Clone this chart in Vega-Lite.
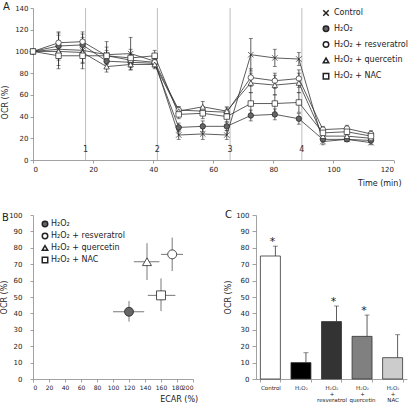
{
  "$schema": "https://vega.github.io/schema/vega-lite/v6.json",
  "padding": {"left": 0, "top": 2, "right": 0, "bottom": 0},
  "background": "white",
  "config": {
    "font": "DejaVu Sans",
    "view": {"stroke": null},
    "axis": {"grid": false, "domainColor": "#8a8a8a", "tickColor": "#8a8a8a", "domainWidth": 0.8, "tickWidth": 0.8, "labelColor": "#222", "titleColor": "#222", "labelFontSize": 7, "titleFontSize": 8, "titleFontWeight": "normal", "tickSize": 3, "labelPadding": 2, "labelOverlap": false, "labelSeparation": 0, "labelBound": false},
    "legend": {"labelFontSize": 8, "labelColor": "#222", "padding": 0}
  },
  "datasets": {
    "ts": [
      {"t":0,"s":"Control","v":100,"e":0},{"t":8.5,"s":"Control","v":102,"e":15},{"t":16.5,"s":"Control","v":101,"e":12},{"t":24.5,"s":"Control","v":97,"e":12},{"t":32.5,"s":"Control","v":98,"e":15},{"t":40.5,"s":"Control","v":91,"e":5},{"t":48.5,"s":"Control","v":23,"e":4},{"t":56.5,"s":"Control","v":24,"e":5},{"t":64.5,"s":"Control","v":23,"e":4},{"t":72.5,"s":"Control","v":97,"e":15},{"t":80.5,"s":"Control","v":94,"e":8},{"t":88.5,"s":"Control","v":93,"e":6},{"t":96.5,"s":"Control","v":17,"e":3},{"t":104.5,"s":"Control","v":19,"e":2},{"t":112.5,"s":"Control","v":16,"e":2},
      {"t":0,"s":"H₂O₂","v":100,"e":0},{"t":8.5,"s":"H₂O₂","v":105,"e":10},{"t":16.5,"s":"H₂O₂","v":106,"e":10},{"t":24.5,"s":"H₂O₂","v":91,"e":6},{"t":32.5,"s":"H₂O₂","v":90,"e":5},{"t":40.5,"s":"H₂O₂","v":89,"e":4},{"t":48.5,"s":"H₂O₂","v":30,"e":4},{"t":56.5,"s":"H₂O₂","v":31,"e":5},{"t":64.5,"s":"H₂O₂","v":31,"e":4},{"t":72.5,"s":"H₂O₂","v":41,"e":5},{"t":80.5,"s":"H₂O₂","v":42,"e":5},{"t":88.5,"s":"H₂O₂","v":38,"e":5},{"t":96.5,"s":"H₂O₂","v":19,"e":2},{"t":104.5,"s":"H₂O₂","v":19,"e":2},{"t":112.5,"s":"H₂O₂","v":18,"e":2},
      {"t":0,"s":"H₂O₂ + resveratrol","v":100,"e":0},{"t":8.5,"s":"H₂O₂ + resveratrol","v":108,"e":10},{"t":16.5,"s":"H₂O₂ + resveratrol","v":109,"e":9},{"t":24.5,"s":"H₂O₂ + resveratrol","v":96,"e":5},{"t":32.5,"s":"H₂O₂ + resveratrol","v":92,"e":5},{"t":40.5,"s":"H₂O₂ + resveratrol","v":90,"e":4},{"t":48.5,"s":"H₂O₂ + resveratrol","v":46,"e":3},{"t":56.5,"s":"H₂O₂ + resveratrol","v":45,"e":4},{"t":64.5,"s":"H₂O₂ + resveratrol","v":44,"e":4},{"t":72.5,"s":"H₂O₂ + resveratrol","v":76,"e":8},{"t":80.5,"s":"H₂O₂ + resveratrol","v":73,"e":7},{"t":88.5,"s":"H₂O₂ + resveratrol","v":75,"e":8},{"t":96.5,"s":"H₂O₂ + resveratrol","v":28,"e":3},{"t":104.5,"s":"H₂O₂ + resveratrol","v":29,"e":3},{"t":112.5,"s":"H₂O₂ + resveratrol","v":24,"e":3},
      {"t":0,"s":"H₂O₂ + quercetin","v":100,"e":0},{"t":8.5,"s":"H₂O₂ + quercetin","v":100,"e":8},{"t":16.5,"s":"H₂O₂ + quercetin","v":99,"e":9},{"t":24.5,"s":"H₂O₂ + quercetin","v":86,"e":5},{"t":32.5,"s":"H₂O₂ + quercetin","v":88,"e":5},{"t":40.5,"s":"H₂O₂ + quercetin","v":88,"e":4},{"t":48.5,"s":"H₂O₂ + quercetin","v":45,"e":4},{"t":56.5,"s":"H₂O₂ + quercetin","v":49,"e":5},{"t":64.5,"s":"H₂O₂ + quercetin","v":45,"e":4},{"t":72.5,"s":"H₂O₂ + quercetin","v":71,"e":9},{"t":80.5,"s":"H₂O₂ + quercetin","v":69,"e":9},{"t":88.5,"s":"H₂O₂ + quercetin","v":71,"e":9},{"t":96.5,"s":"H₂O₂ + quercetin","v":22,"e":3},{"t":104.5,"s":"H₂O₂ + quercetin","v":22,"e":3},{"t":112.5,"s":"H₂O₂ + quercetin","v":20,"e":3},
      {"t":0,"s":"H₂O₂ + NAC","v":100,"e":0},{"t":8.5,"s":"H₂O₂ + NAC","v":96,"e":12},{"t":16.5,"s":"H₂O₂ + NAC","v":96,"e":12},{"t":24.5,"s":"H₂O₂ + NAC","v":96,"e":8},{"t":32.5,"s":"H₂O₂ + NAC","v":94,"e":8},{"t":40.5,"s":"H₂O₂ + NAC","v":96,"e":5},{"t":48.5,"s":"H₂O₂ + NAC","v":42,"e":4},{"t":56.5,"s":"H₂O₂ + NAC","v":43,"e":5},{"t":64.5,"s":"H₂O₂ + NAC","v":40,"e":5},{"t":72.5,"s":"H₂O₂ + NAC","v":52,"e":10},{"t":80.5,"s":"H₂O₂ + NAC","v":52,"e":8},{"t":88.5,"s":"H₂O₂ + NAC","v":53,"e":9},{"t":96.5,"s":"H₂O₂ + NAC","v":25,"e":3},{"t":104.5,"s":"H₂O₂ + NAC","v":26,"e":3},{"t":112.5,"s":"H₂O₂ + NAC","v":22,"e":3}
    ],
    "inj": [{"t":17.5,"n":"1"},{"t":41.4,"n":"2"},{"t":65.6,"n":"3"},{"t":89.5,"n":"4"}],
    "sc": [
      {"s":"H₂O₂","x":120,"y":41,"xlo":100,"xhi":139,"ylo":35,"yhi":47.5},
      {"s":"H₂O₂ + resveratrol","x":174,"y":76,"xlo":160,"xhi":187.5,"ylo":65.8,"yhi":86.2},
      {"s":"H₂O₂ + quercetin","x":142.5,"y":71.5,"xlo":126,"xhi":158,"ylo":60.4,"yhi":82.8},
      {"s":"H₂O₂ + NAC","x":160,"y":51,"xlo":143.5,"xhi":178,"ylo":41.4,"yhi":61.3}
    ],
    "bars": [
      {"c":"Control","v":75,"hi":81,"sig":"*"},
      {"c":"H₂O₂","v":10,"hi":16,"sig":""},
      {"c":"H₂O₂|+|resveratrol","v":35,"hi":44.5,"sig":"*"},
      {"c":"H₂O₂|+|quercetin","v":26,"hi":39,"sig":"*"},
      {"c":"H₂O₂|+|NAC","v":13,"hi":27,"sig":""}
    ]
  },
  "bounds": "flush",
  "spacing": 55,
  "resolve": {"scale": {"x": "independent", "y": "independent", "fill": "independent", "shape": "independent"}, "axis": {"x": "independent", "y": "independent"}, "legend": {"fill": "independent", "shape": "independent"}},
  "vconcat": [
    {
      "width": 360.5,
      "height": 152,
      "title": {"text": "A", "anchor": "start", "frame": "bounds", "fontSize": 10, "fontWeight": "normal", "color": "#222", "offset": 0, "dy": 8, "dx": 2},
      "layer": [
        {
          "data": {"name": "inj"},
          "mark": {"type": "rule", "color": "#bdbdbd", "strokeWidth": 1},
          "encoding": {"x": {"field": "t", "type": "quantitative", "scale": {"domain": [0, 120], "nice": false}, "axis": {"tickCount": 7, "labelOverlap": false, "title": "Time (min)", "titleX": 368, "titleAlign": "right", "titleBaseline": "top", "titleY": 19}}}
        },
        {
          "data": {"name": "inj"},
          "mark": {"type": "text", "fontSize": 8, "color": "#333", "baseline": "middle"},
          "encoding": {
            "x": {"field": "t", "type": "quantitative", "title": "Time (min)"},
            "y": {"datum": 9, "type": "quantitative", "scale": {"domain": [0, 140], "nice": false}, "axis": {"tickCount": 8, "labelOverlap": false, "title": "OCR (%)", "titleX": -24, "titleY": 94}},
            "text": {"field": "n"}
          }
        },
        {
          "data": {"name": "ts"},
          "mark": {"type": "errorbar", "color": "#333", "thickness": 0.8, "ticks": {"size": 4}},
          "encoding": {
            "x": {"field": "t", "type": "quantitative", "title": "Time (min)"},
            "y": {"field": "v", "type": "quantitative", "title": "OCR (%)"},
            "yError": {"field": "e"},
            "detail": {"field": "s"}
          }
        },
        {
          "data": {"name": "ts"},
          "mark": {"type": "line", "color": "#333", "strokeWidth": 0.8},
          "encoding": {
            "x": {"field": "t", "type": "quantitative", "title": "Time (min)"},
            "y": {"field": "v", "type": "quantitative", "title": "OCR (%)"},
            "detail": {"field": "s"}
          }
        },
        {
          "data": {"name": "ts"},
          "mark": {"type": "point", "filled": true, "opacity": 1, "stroke": "#222", "strokeWidth": 0.7, "size": 30},
          "encoding": {
            "x": {"field": "t", "type": "quantitative", "title": "Time (min)"},
            "y": {"field": "v", "type": "quantitative", "title": "OCR (%)"},
            "shape": {"field": "s", "type": "nominal", "scale": {"domain": ["Control", "H₂O₂", "H₂O₂ + resveratrol", "H₂O₂ + quercetin", "H₂O₂ + NAC"], "range": ["M-1,-1L1,1M-1,1L1,-1", "circle", "circle", "triangle-up", "square"]},
              "legend": {"title": null, "orient": "none", "legendX": 289, "legendY": 1, "symbolSize": 30, "rowPadding": 3.8, "labelOffset": 4, "encode": {"symbols": {"update": {"stroke": {"value": "#222"}, "strokeWidth": {"value": 0.8}, "size": {"value": 30}}}}}},
            "fill": {"field": "s", "type": "nominal", "scale": {"domain": ["Control", "H₂O₂", "H₂O₂ + resveratrol", "H₂O₂ + quercetin", "H₂O₂ + NAC"], "range": ["#222", "#666", "white", "white", "white"]},
              "legend": {"title": null, "orient": "none", "legendX": 289, "legendY": 1, "symbolSize": 30, "rowPadding": 3.8, "labelOffset": 4, "encode": {"symbols": {"update": {"stroke": {"value": "#222"}, "strokeWidth": {"value": 0.8}, "size": {"value": 30}}}}}}
          }
        }
      ]
    },
    {
      "bounds": "flush",
      "spacing": 63,
      "resolve": {"scale": {"x": "independent", "y": "independent", "fill": "independent", "shape": "independent"}, "axis": {"x": "independent", "y": "independent"}, "legend": {"fill": "independent", "shape": "independent"}},
      "hconcat": [
        {
          "width": 160,
          "height": 164,
          "title": {"text": "B", "anchor": "start", "frame": "bounds", "fontSize": 10, "fontWeight": "normal", "color": "#222", "offset": 0, "dy": 12, "dx": 2},
          "data": {"name": "sc"},
          "layer": [
            {
              "mark": {"type": "rule", "color": "#555", "strokeWidth": 0.8},
              "encoding": {
                "x": {"field": "xlo", "type": "quantitative", "scale": {"domain": [0, 200], "nice": false}, "axis": {"tickCount": 11, "labelOverlap": false, "labelFontSize": 6, "title": "ECAR (%)", "titleX": 164.7, "titleAlign": "right", "titleBaseline": "top", "titleY": 16}},
                "x2": {"field": "xhi"},
                "y": {"field": "y", "type": "quantitative", "scale": {"domain": [0, 100], "nice": false}, "axis": {"tickCount": 11, "labelOverlap": false, "title": "OCR (%)", "titleX": -25, "labelPadding": 8}}
              }
            },
            {
              "mark": {"type": "rule", "color": "#555", "strokeWidth": 0.8},
              "encoding": {
                "x": {"field": "x", "type": "quantitative", "title": "ECAR (%)"},
                "y": {"field": "ylo", "type": "quantitative", "title": "OCR (%)"},
                "y2": {"field": "yhi"}
              }
            },
            {
              "mark": {"type": "point", "filled": true, "opacity": 1, "stroke": "#222", "strokeWidth": 0.8, "size": 80},
              "encoding": {
                "x": {"field": "x", "type": "quantitative", "title": "ECAR (%)"},
                "y": {"field": "y", "type": "quantitative", "title": "OCR (%)"},
                "shape": {"field": "s", "type": "nominal", "scale": {"domain": ["H₂O₂", "H₂O₂ + resveratrol", "H₂O₂ + quercetin", "H₂O₂ + NAC"], "range": ["circle", "circle", "triangle-up", "square"]},
                  "legend": {"title": null, "orient": "none", "legendX": 8, "legendY": 5, "symbolSize": 30, "clipHeight": 8, "rowPadding": 4, "labelOffset": 2, "encode": {"symbols": {"update": {"stroke": {"value": "#222"}, "strokeWidth": {"value": 0.8}, "size": {"value": 30}}}}}},
                "fill": {"field": "s", "type": "nominal", "scale": {"domain": ["H₂O₂", "H₂O₂ + resveratrol", "H₂O₂ + quercetin", "H₂O₂ + NAC"], "range": ["#666", "white", "white", "white"]},
                  "legend": {"title": null, "orient": "none", "legendX": 8, "legendY": 5, "symbolSize": 30, "clipHeight": 8, "rowPadding": 4, "labelOffset": 2, "encode": {"symbols": {"update": {"stroke": {"value": "#222"}, "strokeWidth": {"value": 0.8}, "size": {"value": 30}}}}}}
              }
            }
          ]
        },
        {
          "width": 151,
          "height": 164,
          "title": {"text": "C", "anchor": "start", "frame": "bounds", "fontSize": 10, "fontWeight": "normal", "color": "#222", "offset": 0, "dy": 9, "dx": 1},
          "data": {"name": "bars"},
          "layer": [
            {
              "mark": {"type": "bar", "stroke": "#333", "strokeWidth": 0.8},
              "encoding": {
                "x": {"field": "c", "type": "nominal", "sort": null, "scale": {"paddingInner": 0.346, "paddingOuter": 0.144}, "axis": {"title": null, "labelAngle": 0, "labelFontSize": 5.5, "labelLineHeight": 6, "labelExpr": "datum.value ? split(datum.value, '|') : ''", "tickBand": "extent", "labelPadding": 3, "labelOverlap": false}},
                "y": {"field": "v", "type": "quantitative", "scale": {"domain": [0, 100], "nice": false}, "axis": {"tickCount": 11, "labelOverlap": false, "title": "OCR (%)", "titleX": -24, "tickSize": 4, "labelPadding": 3}},
                "fill": {"field": "c", "type": "nominal", "scale": {"domain": ["Control", "H₂O₂", "H₂O₂|+|resveratrol", "H₂O₂|+|quercetin", "H₂O₂|+|NAC"], "range": ["white", "#000000", "#333333", "#808080", "#cccccc"]}, "legend": null}
              }
            },
            {
              "mark": {"type": "rule", "color": "#333", "strokeWidth": 0.8, "xOffset": 5},
              "encoding": {
                "x": {"field": "c", "type": "nominal", "sort": null, "title": null},
                "y": {"field": "v", "type": "quantitative", "title": "OCR (%)"},
                "y2": {"field": "hi"}
              }
            },
            {
              "mark": {"type": "tick", "color": "#333", "thickness": 0.8, "size": 5, "xOffset": 5},
              "encoding": {
                "x": {"field": "c", "type": "nominal", "sort": null, "title": null},
                "y": {"field": "hi", "type": "quantitative", "title": "OCR (%)"}
              }
            },
            {
              "mark": {"type": "text", "fontSize": 11, "color": "#222", "baseline": "bottom", "dy": 1, "xOffset": 2},
              "encoding": {
                "x": {"field": "c", "type": "nominal", "sort": null, "title": null},
                "y": {"field": "hi", "type": "quantitative", "title": "OCR (%)"},
                "text": {"field": "sig"}
              }
            }
          ]
        }
      ]
    }
  ]
}
